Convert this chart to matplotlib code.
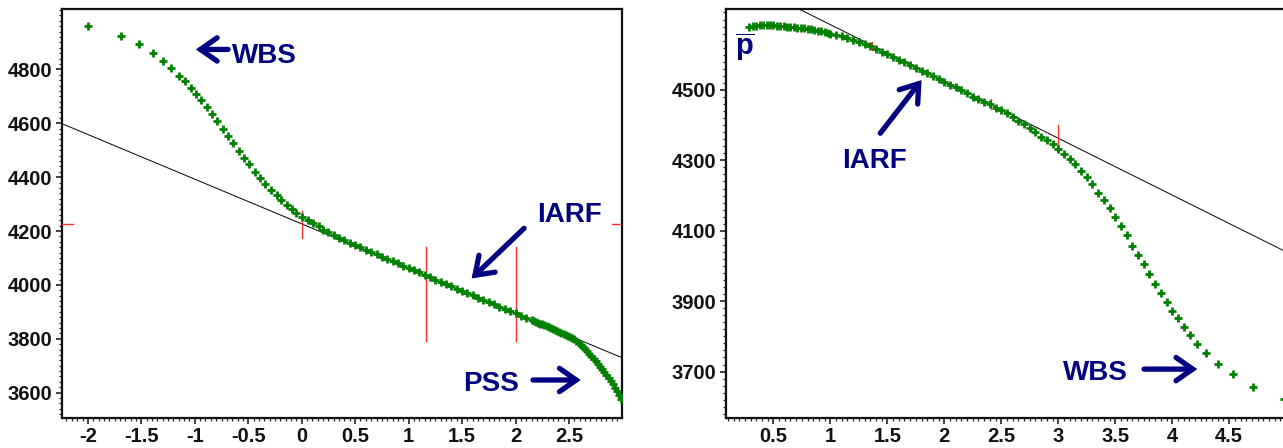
import matplotlib
matplotlib.use('Agg')
import matplotlib.pyplot as plt
from matplotlib.ticker import MultipleLocator, FuncFormatter

plt.rcParams['font.family'] = ['Liberation Sans', 'DejaVu Sans']
plt.rcParams['axes.unicode_minus'] = False
plt.rcParams['mathtext.fontset'] = 'custom'
plt.rcParams['mathtext.bf'] = 'Liberation Sans:bold'
plt.rcParams['mathtext.rm'] = 'Liberation Sans'

# ---- left panel data ----
left_x = [-2.00, -1.69, -1.52, -1.39, -1.30, -1.22, -1.15, -1.09, -1.04, -0.99,
          -0.94, -0.89, -0.84, -0.79, -0.74, -0.69, -0.64, -0.59, -0.54, -0.49,
          -0.44, -0.39, -0.34, -0.29, -0.23, -0.19, -0.14, -0.09, -0.05, 0.00,
          0.06, 0.11, 0.16,
          0.20, 0.25, 0.30, 0.35, 0.40, 0.45, 0.50, 0.55, 0.60, 0.65, 0.70, 0.75,
          0.80, 0.85, 0.90, 0.95, 1.00, 1.05, 1.10, 1.15, 1.20, 1.25, 1.30, 1.35,
          1.40, 1.45, 1.50, 1.55, 1.60, 1.65, 1.70, 1.75, 1.80, 1.85, 1.90, 1.95,
          2.00, 2.05, 2.10, 2.15,
          2.17, 2.19, 2.21, 2.23, 2.25, 2.27, 2.29, 2.31, 2.33, 2.35, 2.37, 2.39,
          2.41, 2.43, 2.45, 2.47, 2.49, 2.51, 2.53, 2.55, 2.57, 2.59, 2.61, 2.63,
          2.65, 2.67, 2.69, 2.71, 2.73, 2.75, 2.77, 2.79, 2.81, 2.83, 2.85, 2.87,
          2.89, 2.91, 2.93, 2.95, 2.97, 2.99]
left_p = [4960, 4925, 4893, 4862, 4831, 4804, 4776, 4755, 4732, 4707,
          4686, 4660, 4633, 4607, 4580, 4554, 4525, 4498, 4472, 4447,
          4420, 4395, 4373, 4352, 4332, 4315, 4298, 4280, 4268, 4253,
          4241, 4228, 4219,
          4205, 4195, 4185, 4175, 4166, 4157, 4149, 4140, 4131, 4123, 4114, 4105,
          4097, 4089, 4080, 4071, 4063, 4054, 4046, 4037, 4028, 4020, 4012, 4003,
          3995, 3986, 3978, 3970, 3961, 3953, 3945, 3936, 3928, 3919, 3911, 3903,
          3894, 3886, 3877, 3869,
          3866, 3863, 3860, 3856, 3853, 3850, 3846, 3843, 3840, 3836, 3833, 3829,
          3826, 3822, 3818, 3814, 3810, 3806, 3804, 3799, 3793, 3786, 3778, 3770,
          3762, 3753, 3744, 3735, 3726, 3717, 3707, 3697, 3687, 3676, 3665, 3654,
          3643, 3631, 3619, 3606, 3592, 3578]
left_fit_x = [-2.3, 3.0]
left_fit_p = [4608, 3729]
left_xticks = [-2, -1.5, -1, -0.5, 0, 0.5, 1, 1.5, 2, 2.5]
left_yticks = [3600, 3800, 4000, 4200, 4400, 4600, 4800]
# red marker segments: (x0, x1, y0, y1)
left_red = [(-2.242, -2.14, 4226, 4226), (2.90, 2.996, 4226, 4226),
            (0.0, 0.0, 4174, 4275), (1.163, 1.163, 3790, 4141), (2.0, 2.0, 3790, 4141)]

# ---- right panel data ----
right_x = [0.29, 0.32, 0.35, 0.38, 0.41, 0.44, 0.47, 0.50, 0.53, 0.56, 0.59, 0.62,
           0.65, 0.68, 0.71, 0.74, 0.77, 0.80, 0.83, 0.86, 0.89, 0.92, 0.95, 0.98,
           1.00, 1.05, 1.10, 1.15, 1.20, 1.25, 1.30, 1.35, 1.40, 1.45, 1.50, 1.55,
           1.60, 1.65, 1.70, 1.75, 1.80, 1.85, 1.90, 1.95, 2.00, 2.05, 2.10, 2.15,
           2.20, 2.25, 2.30, 2.35, 2.40, 2.45, 2.50, 2.55, 2.60, 2.65, 2.70, 2.75,
           2.80, 2.85, 2.90, 2.95, 3.00, 3.05, 3.10, 3.15, 3.20, 3.25, 3.30, 3.35,
           3.40, 3.45, 3.50, 3.55, 3.60, 3.65, 3.70, 3.75, 3.80, 3.85, 3.90, 3.95,
           4.00, 4.05, 4.10, 4.16, 4.22, 4.30, 4.40, 4.53, 4.71, 4.98]
right_p = [4679, 4681, 4682, 4683, 4683, 4683, 4683, 4683, 4682, 4682, 4681, 4680,
           4680, 4679, 4677, 4676, 4675, 4674, 4672, 4670, 4668, 4666, 4664, 4662,
           4660, 4656, 4652, 4647, 4642, 4637, 4631, 4624, 4616, 4609, 4601, 4593,
           4586, 4578, 4570, 4562, 4555, 4547, 4539, 4531, 4523, 4515, 4507, 4500,
           4491, 4481, 4474, 4467, 4459, 4450, 4443, 4434, 4424, 4413, 4403, 4391,
           4380, 4367, 4358, 4347, 4332, 4318, 4303, 4289, 4270, 4252, 4232, 4208,
           4188, 4164, 4138, 4114, 4088, 4058, 4031, 4005, 3976, 3948, 3924, 3899,
           3873, 3852, 3828, 3804, 3779, 3752, 3722, 3692, 3657, 3621]
right_fit_x = [0.6, 5.0]
right_fit_p = [4750, 4040]
right_xticks = [0.5, 1, 1.5, 2, 2.5, 3, 3.5, 4, 4.5]
right_yticks = [3700, 3900, 4100, 4300, 4500]
right_red = [(1.368, 1.368, 4614, 4637), (2.41, 2.41, 4445, 4474), (3.0, 3.0, 4325, 4401)]

W, H = 1283, 448
fig = plt.figure(figsize=(W / 100, H / 100), dpi=100)
axL = fig.add_axes([62 / W, (H - 417.7) / H, 560 / W, 408.4 / H])
axR = fig.add_axes([725.7 / W, (H - 417.7) / H, 560 / W, 408.4 / H])

navy = '#000080'
green = '#008000'


def fmt(v, pos):
    return ('%g' % v)


def style(ax, xticks, yticks):
    ax.set_xticks(xticks)
    ax.set_yticks(yticks)
    ax.xaxis.set_minor_locator(MultipleLocator(0.05))
    ax.yaxis.set_minor_locator(MultipleLocator(20))
    ax.xaxis.set_major_formatter(FuncFormatter(fmt))
    ax.tick_params(which='both', direction='out', top=False, right=False, color='#222222')
    ax.tick_params(which='major', length=4, width=1.2, labelsize=14.5, pad=3)
    ax.tick_params(which='minor', length=2.2, width=0.9)
    for lab in ax.get_xticklabels() + ax.get_yticklabels():
        lab.set_fontweight('bold')
        lab.set_color('#111111')
    for sp in ax.spines.values():
        sp.set_linewidth(1.6)
        sp.set_color('#111111')


def arrow(ax, tip, tail):
    ax.annotate('', xy=tip, xytext=tail,
                arrowprops=dict(arrowstyle='->, head_length=0.6, head_width=0.42',
                                lw=3.8, color=navy, mutation_scale=20,
                                shrinkA=0, shrinkB=0, capstyle='round', joinstyle='miter'))


# left panel
axL.plot(left_fit_x, left_fit_p, color='black', lw=0.7, zorder=2)
for x0, x1, y0, y1 in left_red:
    axL.plot([x0, x1], [y0, y1], color='#ff3030', lw=1.0, zorder=3)
axL.plot(left_x, left_p, linestyle='none', marker='+', markersize=5.5, mew=2.0,
         color=green, zorder=4)
axL.set_xlim(-2.242, 2.996)
axL.set_ylim(3507, 5023)
style(axL, left_xticks, left_yticks)

axL.text(-0.652, 4822, 'WBS', color=navy, fontsize=20, fontweight='bold', va='baseline', ha='left')
arrow(axL, (-0.99, 4874), (-0.689, 4874))
axL.text(2.198, 4234, 'IARF', color=navy, fontsize=20, fontweight='bold', va='baseline', ha='left')
arrow(axL, (1.59, 4024), (2.08, 4210))
axL.text(1.509, 3607, 'PSS', color=navy, fontsize=20, fontweight='bold', va='baseline', ha='left')
arrow(axL, (2.61, 3647), (2.164, 3647))

# right panel
axR.plot(right_fit_x, right_fit_p, color='black', lw=0.7, zorder=2)
for x0, x1, y0, y1 in right_red:
    axR.plot([x0, x1], [y0, y1], color='#ff3030', lw=1.0, zorder=3)
axR.plot(right_x, right_p, linestyle='none', marker='+', markersize=5.5, mew=2.0,
         color=green, zorder=4)
axR.set_xlim(0.0815, 4.996)
axR.set_ylim(3569, 4729)
style(axR, right_xticks, right_yticks)

axR.text(0.163, 4598, r'$\overline{\mathbf{p}}$', color=navy, fontsize=21, va='baseline', ha='left')
axR.text(1.101, 4278, 'IARF', color=navy, fontsize=20, fontweight='bold', va='baseline', ha='left')
arrow(axR, (1.80, 4528), (1.438, 4377))
axR.text(3.041, 3676, 'WBS', color=navy, fontsize=20, fontweight='bold', va='baseline', ha='left')
arrow(axR, (4.22, 3707), (3.753, 3707))

fig.savefig('out.png', dpi=100)
plt.close(fig)
